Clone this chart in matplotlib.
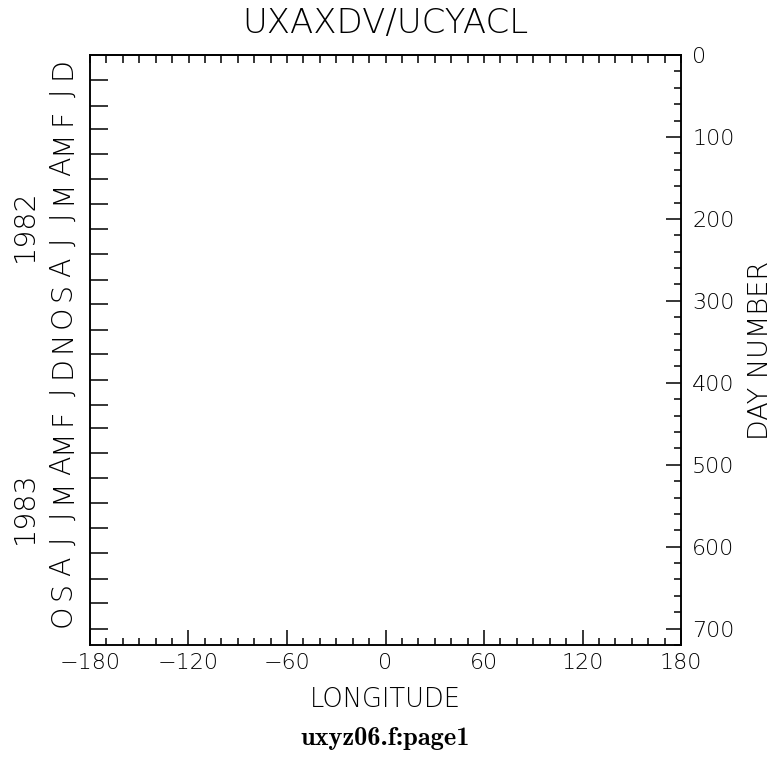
import numpy as np
import matplotlib
matplotlib.use("Agg")
import matplotlib.pyplot as plt
import matplotlib.transforms as mtransforms

# month letters down the left side, starting Dec 1981 (day 0)
months = ['D', 'J', 'F', 'M', 'A', 'M', 'J', 'J', 'A', 'S', 'O', 'N',
          'D', 'J', 'F', 'M', 'A', 'M', 'J', 'J', 'A', 'S', 'O']
month_days = [31, 31, 28, 31, 30, 31, 30, 31, 31, 30, 31, 30,
              31, 31, 28, 31, 30, 31, 30, 31, 31, 30, 31]
years = ['1982', '1983']
year_first_month = [1, 13]   # index into months
day_range = [0, 720]
lon_range = [-180, 180]

plt.rcParams['font.family'] = ['DejaVu Sans']
plt.rcParams['font.weight'] = 'ultralight'
plt.rcParams['axes.titleweight'] = 'ultralight'
plt.rcParams['axes.labelweight'] = 'ultralight'
plt.rcParams['axes.linewidth'] = 1.1

fig = plt.figure(figsize=(7.73, 7.60), dpi=100)
ax = fig.add_axes([90 / 773, 1 - 645 / 760, 591 / 773, 590 / 760])
ax2 = ax.twinx()

ax.set_xlim(*lon_range)
ax.set_ylim(day_range[1], day_range[0])
ax2.set_ylim(day_range[1], day_range[0])

# x axis: major every 60, minor every 10
ax.set_xticks(np.arange(-180, 181, 60))
ax.set_xticks(np.arange(-180, 181, 10), minor=True)
ax.set_xticklabels([f'\u2212{abs(v)}' if v < 0 else str(v) for v in range(-180, 181, 60)])
ax.tick_params(axis='x', which='major', direction='in', length=11, width=1.1,
               labelsize=16, pad=6)
ax.tick_params(axis='x', which='minor', direction='in', length=5, width=1.1)

top = ax.secondary_xaxis('top')
top.set_xticks(np.arange(-180, 181, 10))
top.tick_params(direction='in', length=6, width=1.1, labeltop=False)
top.set_xticklabels([])

# left: ticks at month boundaries, letters in between
bounds = np.cumsum(month_days)
bounds = bounds[bounds < day_range[1]]
ax.set_yticks(bounds)
ax.set_yticklabels([])
ax.yaxis.set_minor_locator(matplotlib.ticker.NullLocator())
ax.tick_params(axis='y', direction='in', length=13, width=1.1)

starts = np.concatenate([[0], np.cumsum(month_days)[:-1]])
trans = mtransforms.blended_transform_factory(ax.transAxes, ax.transData)
for m, s, n in zip(months, starts, month_days):
    mid = (s + min(s + n, day_range[1])) / 2
    ax.text(-0.047, mid, m, transform=trans, rotation=90, ha='center',
            va='center', fontsize=20.5)

for i, (y, k) in enumerate(zip(years, year_first_month)):
    y0 = starts[k]
    y1 = starts[year_first_month[i + 1]] if i + 1 < len(years) else day_range[1]
    ax.text(-0.11, (y0 + min(y1, day_range[1])) / 2 - 5, y, transform=trans,
            rotation=90, ha='center', va='center', fontsize=20.5)

# right: day number
ax2.set_yticks(np.arange(0, 701, 100))
ax2.set_yticks(np.arange(0, 721, 20), minor=True)
ax2.tick_params(axis='y', which='major', direction='in', length=11, width=1.1,
                labelsize=16, pad=8)
ax2.tick_params(axis='y', which='minor', direction='in', length=5, width=1.1)
ax2.set_ylabel('DAY NUMBER', fontsize=19.5)
ax2.yaxis.set_label_coords(1.134, 0.5)
ax2.yaxis.label.set_va('center')

ax.set_xlabel('LONGITUDE', fontsize=18.5)
ax.xaxis.set_label_coords(0.5, -0.093)
ax.xaxis.label.set_va('center')

ax.set_title('UXAXDV/UCYACL', fontsize=24.5, pad=16)

fig.text(0.498, 1 - 738 / 760, 'uxyz06.f:page1', family='cmb10', fontsize=19,
         ha='center', va='center')

fig.savefig('out.png', dpi=100)
